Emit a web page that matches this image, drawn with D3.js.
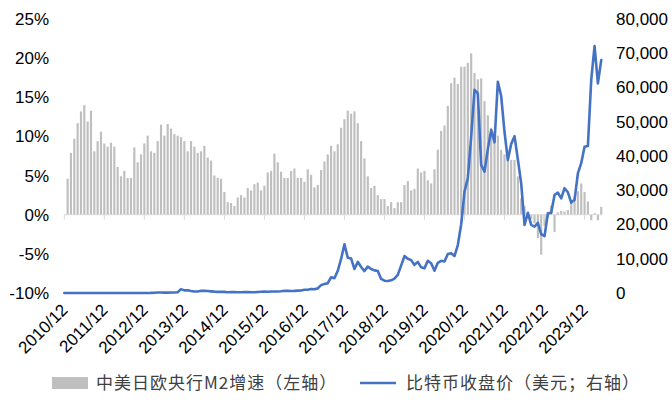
<!DOCTYPE html>
<html><head><meta charset="utf-8">
<script src="https://cdn.jsdelivr.net/npm/d3@7"></script>
<style>
html,body{margin:0;padding:0;background:#fff;}
svg{display:block;}
</style></head>
<body>
<svg id="c" width="672" height="403"></svg>
<script>
// Categories: monthly, 2010/12 .. 2024/05
const months = d3.timeMonth.range(new Date(2010, 11, 1), new Date(2024, 5, 1)).map(d3.timeFormat("%Y/%m"));
const tickLabels = ["2010/12","2011/12","2012/12","2013/12","2014/12","2015/12","2016/12","2017/12","2018/12","2019/12","2020/12","2021/12","2022/12","2023/12"];
const leftTicks = [-10, -5, 0, 5, 10, 15, 20, 25];
const rightTicks = [0, 10000, 20000, 30000, 40000, 50000, 60000, 70000, 80000];

// M2 growth of China/US/Japan/Euro central banks (%), left axis; first month has no bar
const m2Growth = [null,
 4.6, 7.9, 9.7, 11.7, 13.2, 14.0, 11.9, 13.3, 8.1, 9.4, 10.6, 9.1,
 8.7, 9.2, 8.7, 6.1, 4.9, 5.6, 4.7, 4.7, 8.6, 6.7, 7.7, 9.1,
 10.1, 8.1, 7.9, 9.4, 11.5, 10.1, 11.6, 11.0, 10.3, 10.1, 9.9, 9.4,
 8.1, 9.4, 8.7, 7.9, 8.1, 8.8, 7.3, 6.9, 5.0, 4.7, 4.6, 2.9,
 1.6, 1.5, 1.1, 2.2, 2.5, 2.2, 3.4, 3.1, 3.9, 4.1, 3.1, 3.7,
 5.4, 5.6, 7.8, 6.7, 5.5, 4.7, 4.7, 5.6, 5.9, 4.7, 4.7, 4.2,
 5.8, 5.1, 3.5, 3.8, 5.7, 6.8, 7.7, 8.8, 8.1,
 9.0, 11.1, 12.2, 13.3, 12.9, 13.2, 11.7, 9.4, 7.2, 4.9,
 3.4, 3.7, 2.5, 2.0, 2.0, 1.1, 1.6, 0.85, 1.6, 1.6,
 3.8, 4.3, 3.1, 3.3, 5.9, 5.4, 5.6, 4.4, 4.0, 5.8,
 8.3, 10.7, 11.4, 13.9, 16.8, 17.5, 16.7, 18.9, 18.9, 19.4,
 20.6, 18.1, 17.3, 17.4, 14.5, 12.7,
 11.1, 10.6, 10.1, 8.3, 7.7, 7.0, 7.0, 7.0, 4.9, 2.1, 1.1,
 0.3, -0.6, -1.1, -3.0, -5.1, -1.4, -0.4, 1.2, -2.2, 0.3, 0.5, 0.4,
 0.6, 1.7, 2.3, 3.0, 4.0, 2.9, 1.7, -0.7, 0.2, -0.7, 1.0];

// Bitcoin monthly close (USD), right axis
const btcClose = [0.3,
 0.5, 0.9, 0.8, 3.5, 8.7, 16.1, 13.4, 8.2, 5.1, 3.2, 3.0, 4.7,
 5.5, 4.9, 4.9, 5.0, 5.2, 6.7, 9.4, 10.2, 12.4, 11.2, 12.6, 13.5,
 20, 33, 93, 139, 128, 97, 106, 135, 141, 203, 1130, 760,
 800, 570, 450, 445, 630, 640, 590, 480, 390, 340, 380, 320,
 220, 255, 245, 235, 230, 263, 285, 230, 237, 315, 378, 430,
 370, 438, 416, 448, 531, 674, 624, 575, 608, 700, 743, 960,
 970, 1190, 1080, 1350, 2300, 2600, 2880, 4600, 4300, 6500, 9950, 14200,
 10300, 10100, 7000, 9100, 7600, 6400, 7700, 7000, 6600, 6400, 4100, 3600,
 3500, 3700, 4200, 5300, 8000, 10800, 10000, 9600, 8200, 9100, 7500, 7200,
 9400, 8700, 6500, 8800, 9400, 9200, 11400, 11600, 10800, 14000, 20000, 29600,
 33500, 45600, 59300, 58300, 37400, 35400, 42000, 47600, 44000, 61700, 57500, 47000,
 38800, 43500, 45800, 39000, 32000, 19900, 23400, 19900, 19400, 20500, 17200, 16600,
 23300, 23400, 28600, 29300, 27600, 30600, 29400, 26400, 27200, 34900, 37900, 42700,
 42900, 62200, 72100, 61200, 68000];

const legendLabels = ["中美日欧央行M2增速（左轴）", "比特币收盘价（美元；右轴）"];

const svg = d3.select("#c");
const FONT = "'Liberation Sans', Arial, sans-serif";
const CJK = "'Noto Sans CJK SC', 'Liberation Sans', sans-serif";

const x = d3.scaleBand().domain(months).range([62.63, 602.9]).paddingInner(0.35).paddingOuter(0.175);
const cx = m => x(m) + x.bandwidth() / 2;
const yL = d3.scaleLinear().domain([-10, 25]).range([293, 19]);
const yR = d3.scaleLinear().domain([0, 80000]).range([293, 19]);

// bars
svg.append("g").selectAll("rect")
  .data(months.map((m, i) => ({m, v: m2Growth[i]})).filter(d => d.v != null))
  .join("rect")
  .attr("x", d => x(d.m))
  .attr("width", x.bandwidth())
  .attr("y", d => yL(Math.max(0, d.v)))
  .attr("height", d => Math.abs(yL(d.v) - yL(0)))
  .attr("fill", "#bfbfbf");

// x axis line at 0%
const y0 = yL(0);
svg.append("line").attr("x1", 64).attr("x2", 602).attr("y1", y0).attr("y2", y0)
  .attr("stroke", "#d9d9d9").attr("stroke-width", 1);
svg.append("g").selectAll("line").data(tickLabels).join("line")
  .attr("x1", d => cx(d)).attr("x2", d => cx(d))
  .attr("y1", y0).attr("y2", y0 + 5)
  .attr("stroke", "#d9d9d9").attr("stroke-width", 1);

// x labels (low position)
svg.append("g").selectAll("text").data(tickLabels).join("text")
  .attr("transform", d => `translate(${cx(d) + 4.5},311) rotate(-45)`)
  .attr("text-anchor", "end")
  .attr("font-family", FONT).attr("font-size", 17).attr("fill", "#000")
  .text(d => d);

// left axis labels
svg.append("g").selectAll("text").data(leftTicks).join("text")
  .attr("x", 49).attr("y", d => yL(d)).attr("dy", "0.35em")
  .attr("text-anchor", "end")
  .attr("font-family", FONT).attr("font-size", 17).attr("fill", "#000")
  .text(d => d + "%");

// right axis labels
svg.append("g").selectAll("text").data(rightTicks).join("text")
  .attr("x", 616).attr("y", d => yR(d)).attr("dy", "0.35em")
  .attr("text-anchor", "start")
  .attr("font-family", FONT).attr("font-size", 17).attr("fill", "#000")
  .text(d => d3.format(",")(d));

// line
const line = d3.line().x((d, i) => cx(months[i])).y(d => yR(d));
svg.append("path").datum(btcClose).attr("d", line)
  .attr("fill", "none").attr("stroke", "#4472c4").attr("stroke-width", 2.6)
  .attr("stroke-linejoin", "round").attr("stroke-linecap", "round");

// legend
const lg = svg.append("g");
lg.append("rect").attr("x", 52).attr("y", 377).attr("width", 36).attr("height", 12).attr("fill", "#bfbfbf");
lg.append("text").attr("x", 96).attr("y", 383).attr("dy", "0.35em")
  .attr("font-family", CJK).attr("font-size", 17).attr("letter-spacing", "1px").attr("fill", "#404040").text(legendLabels[0]);
lg.append("line").attr("x1", 360).attr("x2", 396).attr("y1", 383).attr("y2", 383)
  .attr("stroke", "#4472c4").attr("stroke-width", 2.6);
lg.append("text").attr("x", 406).attr("y", 383).attr("dy", "0.35em")
  .attr("font-family", CJK).attr("font-size", 17).attr("letter-spacing", "1px").attr("fill", "#404040").text(legendLabels[1]);
</script>
</body></html>
